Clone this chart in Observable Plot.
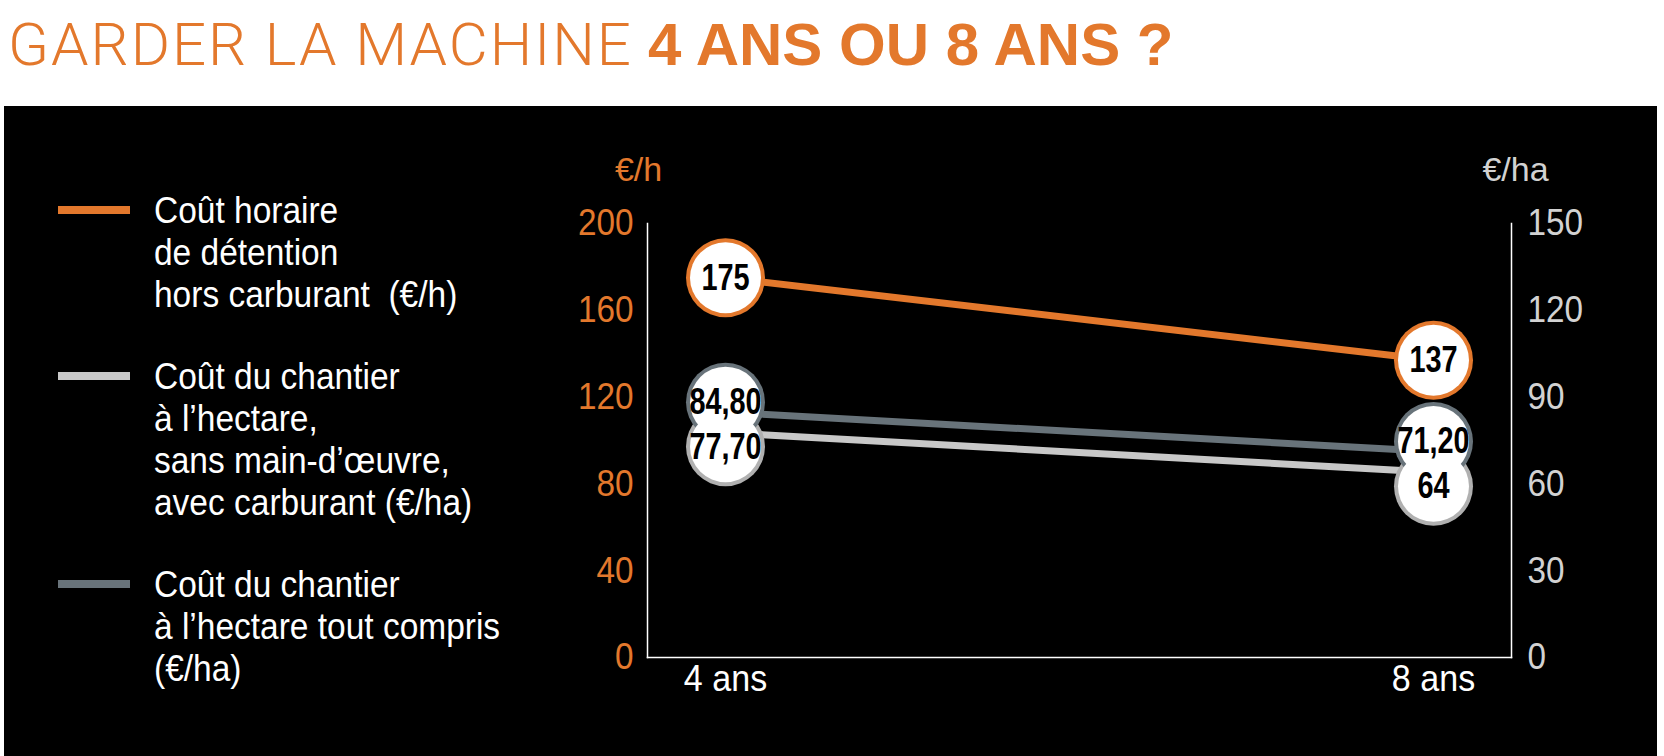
<!DOCTYPE html>
<html>
<head>
<meta charset="utf-8">
<script src="https://cdn.jsdelivr.net/npm/d3@7"></script>
<script src="https://cdn.jsdelivr.net/npm/@observablehq/plot@0.6"></script>
<style>
  html, body { margin: 0; padding: 0; background: #fff; width: 1664px; height: 756px; overflow: hidden; }
  #title { position: absolute; left: 8px; top: 15px; font-family: Roboto, sans-serif; font-size: 60px; line-height: 60px; color: #e3782c; white-space: nowrap; }
  #title .light { font-weight: 300; letter-spacing: 2px; }
  #title .bold { font-family: "Liberation Sans", Arial, sans-serif; font-weight: 700; }
  #panel { position: absolute; left: 4px; top: 106px; width: 1653px; height: 650px; background: #000; }
  #legend { position: absolute; left: 0; top: 190px; display: flex; flex-direction: column; gap: 40px; }
  .item { position: relative; }
  .swatch { position: absolute; left: 58px; top: 16px; width: 72px; height: 8px; }
  .label { margin-left: 154px; font-family: "Liberation Sans", Arial, sans-serif; font-size: 36px; line-height: 42px; color: #fff; white-space: pre; transform: scaleX(0.93); transform-origin: 0 0; }
  #chart { position: absolute; left: 540px; top: 106px; }
</style>
</head>
<body>
<div id="title"><span class="light">GARDER LA MACHINE</span> <span class="bold">4 ANS OU 8 ANS ?</span></div>
<div id="panel"></div>
<div id="legend"></div>
<div id="chart"></div>
<script>
// ---- data ----
const years = ["4 ans", "8 ans"];
const coutHoraire = [175, 137];                 // €/h (left axis)
const chantierSansMainOeuvre = [77.70, 64];     // €/ha (right axis)
const chantierToutCompris = [84.80, 71.20];     // €/ha (right axis)
const ticksEuroHeure = [0, 40, 80, 120, 160, 200];
const ticksEuroHectare = [0, 30, 60, 90, 120, 150];
const unitLeft = "€/h";
const unitRight = "€/ha";
const legendHoraire = ["Coût horaire", "de détention", "hors carburant  (€/h)"];
const legendSansMO = ["Coût du chantier", "à l’hectare,", "sans main-d’œuvre,", "avec carburant (€/ha)"];
const legendToutCompris = ["Coût du chantier", "à l’hectare tout compris", "(€/ha)"];

// ---- styles ----
const ORANGE = "#e3782c", LIGHT = "#c8c8c8", DARK = "#68737a", RIGHTTXT = "#d2d2d2";
const series = [
  {key: "horaire", values: coutHoraire, axis: "left", color: ORANGE, ring: ORANGE, dy: 0, legend: legendHoraire},
  {key: "sans", values: chantierSansMainOeuvre, axis: "right", color: LIGHT, ring: "#b0b0b0", dy: 14, legend: legendSansMO},
  {key: "tout", values: chantierToutCompris, axis: "right", color: DARK, ring: DARK, dy: -10, legend: legendToutCompris}
];
const k = ticksEuroHeure[ticksEuroHeure.length - 1] / ticksEuroHectare[ticksEuroHectare.length - 1];
const fmt = v => Number.isInteger(v) ? String(v) : v.toFixed(2).replace(".", ",");
const rowsOf = s => years.map((yr, i) => ({year: yr, value: s.values[i], y: s.axis === "right" ? s.values[i] * k : s.values[i]}));

// ---- legend ----
const legend = document.getElementById("legend");
series.forEach(s => {
  const item = document.createElement("div");
  item.className = "item";
  const sw = document.createElement("div");
  sw.className = "swatch";
  sw.style.background = s.color;
  const lab = document.createElement("div");
  lab.className = "label";
  lab.textContent = s.legend.join("\n");
  item.appendChild(sw);
  item.appendChild(lab);
  legend.appendChild(item);
});

// ---- chart ----
const lineOrder = [series[2], series[1], series[0]];
const marks = [
  Plot.frame({anchor: "left", stroke: "#fff", strokeWidth: 1.5}),
  Plot.frame({anchor: "right", stroke: "#fff", strokeWidth: 1.5}),
  Plot.frame({anchor: "bottom", stroke: "#fff", strokeWidth: 1.5}),
  Plot.axisY(ticksEuroHeure, {anchor: "left", tickSize: 0, tickPadding: 14, fill: ORANGE, fontSize: 37, label: null}),
  Plot.axisY(ticksEuroHectare.map(v => v * k), {anchor: "right", tickSize: 0, tickPadding: 16, fill: RIGHTTXT, fontSize: 37, label: null, tickFormat: d => String(Math.round(d / k))}),
  Plot.axisX(years, {anchor: "bottom", tickSize: 0, tickPadding: 7, fill: "#fff", fontSize: 37, label: null}),
  Plot.text([unitLeft], {frameAnchor: "top-left", lineAnchor: "middle", text: d => d, dx: -9, dy: -53, fill: ORANGE, fontSize: 34, textAnchor: "middle"}),
  Plot.text([unitRight], {frameAnchor: "top-right", lineAnchor: "middle", text: d => d, dx: 4, dy: -53, fill: RIGHTTXT, fontSize: 34, textAnchor: "middle"}),
  ...lineOrder.map(s => Plot.line(rowsOf(s), {x: "year", y: "y", stroke: s.color, strokeWidth: 7})),
  ...series.map(s => Plot.dot(rowsOf(s), {x: "year", y: "y", dy: s.dy, r: 39.5, fill: s.ring, stroke: "none"})),
  ...series.map(s => Plot.dot(rowsOf(s), {x: "year", y: "y", dy: s.dy, r: 35.5, fill: "#fff", stroke: "none"})),
  ...series.map(s => Plot.text(rowsOf(s), {x: "year", y: "y", dy: s.dy, text: d => fmt(d.value), fill: "#000", fontSize: 37, fontWeight: "bold"}))
];

const plot = Plot.plot({
  width: 1117,
  height: 650,
  marginLeft: 107,
  marginRight: 146,
  marginTop: 117,
  marginBottom: 99,
  style: {background: "transparent", color: "#fff", fontFamily: "'Liberation Sans', Arial, sans-serif"},
  x: {type: "point", domain: years, padding: 0.11, label: null},
  y: {domain: [0, 200], label: null},
  marks
});
document.getElementById("chart").appendChild(plot);

// condensed-type emulation
const circleLabels = new Set(series.flatMap(s => s.values.map(fmt)));
const tickLabels = new Set([...ticksEuroHeure, ...ticksEuroHectare].map(String));
const xLabels = new Set(years);
plot.querySelectorAll("text").forEach(t => {
  const s = t.textContent;
  let f = 0;
  if (circleLabels.has(s) && t.getAttribute("font-weight") === "bold") f = 0.78;
  else if (circleLabels.has(s) && t.closest('g[font-weight="bold"]')) f = 0.78;
  else if (tickLabels.has(s)) f = 0.9;
  else if (xLabels.has(s)) f = 0.92;
  if (f) {
    const w = t.getComputedTextLength();
    if (w > 0) {
      t.setAttribute("textLength", (w * f).toFixed(1));
      t.setAttribute("lengthAdjust", "spacingAndGlyphs");
    }
  }
});
</script>
</body>
</html>
